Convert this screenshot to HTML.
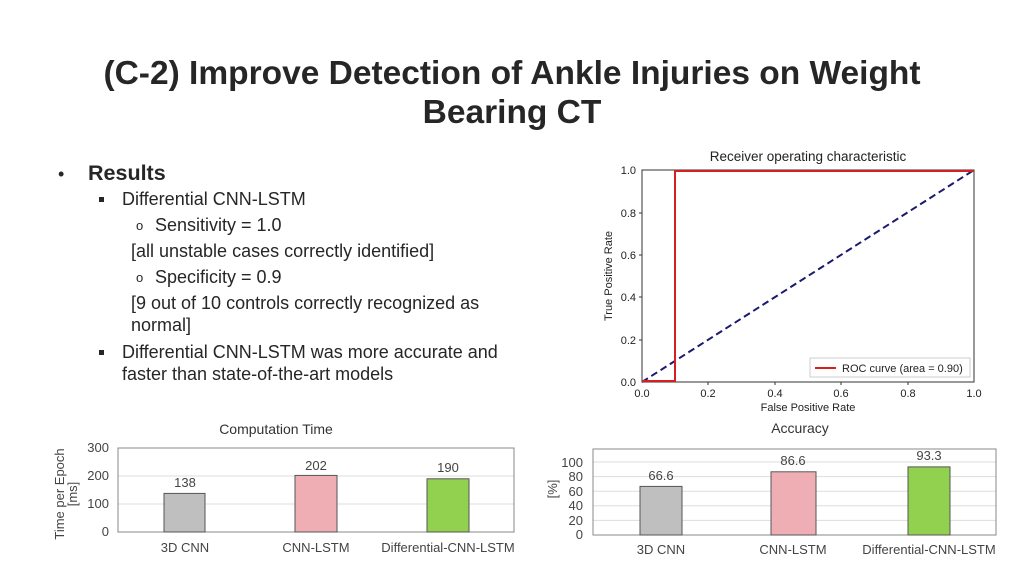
<!DOCTYPE html>
<html><head><meta charset="utf-8"><style>
html,body{margin:0;padding:0;background:#fff;}
svg{display:block;font-family:"Liberation Sans",Arial,sans-serif;}
</style></head><body>
<svg width="1024" height="576" viewBox="0 0 1024 576" xmlns="http://www.w3.org/2000/svg">
<rect width="1024" height="576" fill="#fff"/>
<g fill="#262626" font-weight="bold" font-size="33.5" text-anchor="middle">
<text x="512" y="84">(C-2) Improve Detection of Ankle Injuries on Weight</text>
<text x="512" y="123">Bearing CT</text>
</g>
<g fill="#262626" font-size="18">
<text x="58" y="180" font-size="18">•</text>
<text x="88" y="180" font-size="21.5" font-weight="bold">Results</text>
<rect x="99" y="197" width="5" height="5"/>
<text x="122" y="205">Differential CNN-LSTM</text>
<text x="136" y="230" font-size="13">o</text>
<text x="155" y="231">Sensitivity = 1.0</text>
<text x="131" y="257">[all unstable  cases correctly identified]</text>
<text x="136" y="282" font-size="13">o</text>
<text x="155" y="283">Specificity = 0.9</text>
<text x="131" y="309">[9 out of 10 controls correctly recognized as</text>
<text x="131" y="331">normal]</text>
<rect x="99" y="350" width="5" height="5"/>
<text x="122" y="358">Differential CNN-LSTM was more accurate and</text>
<text x="122" y="380">faster than state-of-the-art models</text>
</g>
<!-- ROC -->
<g font-size="11" fill="#222">
<text x="808" y="161" text-anchor="middle" font-size="13.5">Receiver operating characteristic</text>
<rect x="642" y="170" width="332" height="212" fill="none" stroke="#333" stroke-width="1"/>
<g text-anchor="end">
<text x="636" y="386">0.0</text><text x="636" y="344">0.2</text><text x="636" y="301">0.4</text>
<text x="636" y="259">0.6</text><text x="636" y="217">0.8</text><text x="636" y="174">1.0</text>
</g>
<g text-anchor="middle">
<text x="642" y="397">0.0</text><text x="708" y="397">0.2</text><text x="775" y="397">0.4</text>
<text x="841" y="397">0.6</text><text x="908" y="397">0.8</text><text x="974" y="397">1.0</text>
<text x="808" y="411">False Positive Rate</text>
</g>
<text transform="translate(612,276) rotate(-90)" text-anchor="middle">True Positive Rate</text>
<g stroke="#333"><line x1="642" y1="340" x2="639" y2="340"/><line x1="642" y1="297" x2="639" y2="297"/><line x1="642" y1="255" x2="639" y2="255"/><line x1="642" y1="213" x2="639" y2="213"/><line x1="708" y1="382" x2="708" y2="385"/><line x1="775" y1="382" x2="775" y2="385"/><line x1="841" y1="382" x2="841" y2="385"/><line x1="908" y1="382" x2="908" y2="385"/></g>
<line x1="642" y1="382" x2="974" y2="170" stroke="#1a1a6e" stroke-width="2" stroke-dasharray="7,4"/>
<polyline points="642,381 675,381 675,171 974,171" fill="none" stroke="#d62020" stroke-width="2"/>
<rect x="810" y="358" width="160" height="19" fill="#fff" stroke="#ccc"/>
<line x1="815" y1="368" x2="836" y2="368" stroke="#d62020" stroke-width="2"/>
<text x="842" y="372">ROC curve (area = 0.90)</text>
</g>
<!-- Computation -->
<g font-size="13" fill="#444">
<text x="276" y="434" text-anchor="middle" font-size="14" fill="#333">Computation Time</text>
<g stroke="#ddd"><line x1="118" y1="476" x2="514" y2="476"/><line x1="118" y1="504" x2="514" y2="504"/></g>
<rect x="118" y="448" width="396" height="84" fill="none" stroke="#888"/>
<rect x="164" y="493.4" width="41" height="38.6" fill="#bfbfbf" stroke="#555"/>
<rect x="295" y="475.4" width="42" height="56.6" fill="#eeaeb4" stroke="#555"/>
<rect x="427" y="478.8" width="42" height="53.2" fill="#92d050" stroke="#555"/>
<g text-anchor="middle"><text x="185" y="487">138</text><text x="316" y="470">202</text><text x="448" y="472">190</text>
<text x="185" y="552">3D CNN</text><text x="316" y="552">CNN-LSTM</text><text x="448" y="552">Differential-CNN-LSTM</text></g>
<g text-anchor="end"><text x="109" y="452">300</text><text x="109" y="480">200</text><text x="109" y="508">100</text><text x="109" y="536">0</text></g>
<text transform="translate(64,494) rotate(-90)" text-anchor="middle">Time per Epoch</text>
<text transform="translate(77,494) rotate(-90)" text-anchor="middle">[ms]</text>
</g>
<!-- Accuracy -->
<g font-size="13" fill="#444">
<text x="800" y="433" text-anchor="middle" font-size="14" fill="#333">Accuracy</text>
<g stroke="#ddd"><line x1="593" y1="462" x2="996" y2="462"/><line x1="593" y1="476.6" x2="996" y2="476.6"/><line x1="593" y1="491.2" x2="996" y2="491.2"/><line x1="593" y1="505.8" x2="996" y2="505.8"/><line x1="593" y1="520.4" x2="996" y2="520.4"/></g>
<rect x="593" y="449" width="403" height="86" fill="none" stroke="#888"/>
<rect x="640" y="486.4" width="42" height="48.6" fill="#bfbfbf" stroke="#555"/>
<rect x="771" y="471.8" width="45" height="63.2" fill="#eeaeb4" stroke="#555"/>
<rect x="908" y="466.9" width="42" height="68.1" fill="#92d050" stroke="#555"/>
<g text-anchor="middle"><text x="661" y="480">66.6</text><text x="793" y="465">86.6</text><text x="929" y="460">93.3</text>
<text x="661" y="554">3D CNN</text><text x="793" y="554">CNN-LSTM</text><text x="929" y="554">Differential-CNN-LSTM</text></g>
<g text-anchor="end"><text x="583" y="467">100</text><text x="583" y="481">80</text><text x="583" y="496">60</text><text x="583" y="510">40</text><text x="583" y="525">20</text><text x="583" y="539">0</text></g>
<text transform="translate(557,489) rotate(-90)" text-anchor="middle">[%]</text>
</g>
</svg>
</body></html>
